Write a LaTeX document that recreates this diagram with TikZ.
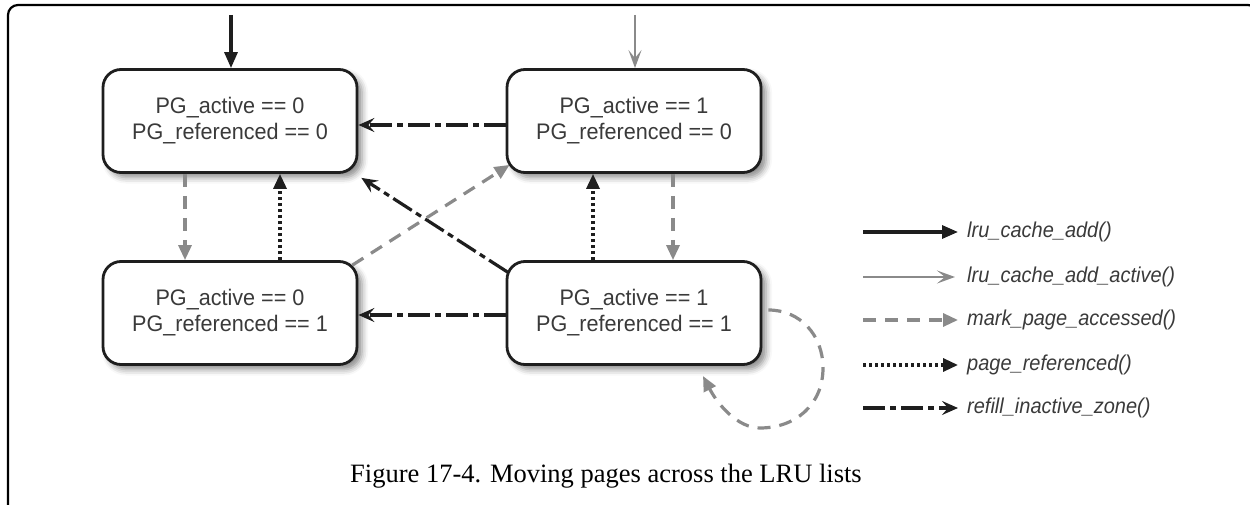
\documentclass[tikz,border=0pt]{standalone}
\usepackage{fontspec}
\setmainfont{Liberation Serif}
\newfontfamily\boxfont[FakeStretch=0.96]{Liberation Sans}
\newfontfamily\legfont[FakeStretch=0.93]{Liberation Sans}
\usetikzlibrary{arrows.meta,shadows.blur}
\definecolor{txtgray}{HTML}{3A3A3A}
\definecolor{arrgray}{HTML}{8A8A8A}
\definecolor{ink}{HTML}{1E1E1E}
\begin{document}
\begin{tikzpicture}[x=1pt,y=-1pt,
  state/.style={draw=ink, line width=2.8pt, rounded corners=18pt, fill=white,
    minimum width=254pt, minimum height=103pt, align=center,
    font=\boxfont\fontsize{22.5}{26}\selectfont, text=txtgray,
    blur shadow={shadow xshift=5pt, shadow yshift=-5pt, shadow blur radius=6pt, shadow opacity=45}},
  legtext/.style={anchor=west, inner sep=0pt, text=txtgray, font=\legfont\itshape\fontsize{21.5}{25}\selectfont},
  addarrow/.style={draw=ink, line width=3.2pt, -{Triangle[length=16pt,width=13pt]}},
  activearrow/.style={draw=arrgray, line width=2.8pt, -{Stealth[length=18pt,width=13pt,inset=8pt]}},
  markarrow/.style={draw=arrgray, line width=3.2pt, dash pattern=on 13pt off 9pt, -{Triangle[length=15pt,width=13pt]}},
  refarrow/.style={draw=ink, line width=3.2pt, dash pattern=on 3pt off 3pt, -{Triangle[length=15pt,width=13pt]}},
  refillarrow/.style={draw=ink, line width=3.2pt, dash pattern=on 22pt off 5pt on 6pt off 5pt, -{Stealth[length=16pt,width=14pt,inset=6pt]}}
]
\useasboundingbox (0,0) rectangle (1250,505);
% frame
\draw[line width=2.2pt, rounded corners=10pt] (8,515) -- (8,5) -- (1258,5) -- (1258,515);

% states
\node[state] (A) at (230,121) {PG\_active == 0\\PG\_referenced == 0};
\node[state] (B) at (634,121) {PG\_active == 1\\PG\_referenced == 0};
\node[state] (C) at (230,313) {PG\_active == 0\\PG\_referenced == 1};
\node[state] (D) at (634,313) {PG\_active == 1\\PG\_referenced == 1};

% entry points
\coordinate (inA) at (231,15);
\coordinate (inB) at (635,15);
\draw[addarrow] (inA) -- (A.north -| inA);
\draw[activearrow] (inB) -- (B.north -| inB);

% vertical transitions
\draw[markarrow] ([xshift=-45pt]A.south) -- ([xshift=-45pt]C.north);
\draw[refarrow] ([xshift=50pt]C.north) -- ([xshift=50pt]A.south);
\draw[markarrow] ([xshift=39pt]B.south) -- ([xshift=39pt]D.north);
\draw[refarrow] ([xshift=-41pt]D.north) -- ([xshift=-41pt]B.south);

% horizontal transitions
\draw[refillarrow] ([yshift=-4pt]B.west) -- ([yshift=-4pt]A.east);
\draw[refillarrow] ([yshift=-2pt]D.west) -- ([yshift=-2pt]C.east);

% diagonals
\draw[refillarrow] ([shift={(2,12)}]D.north west) -- ([shift={(3,4)}]A.south east);
\draw[markarrow] ([shift={(-6,5)}]C.north east) -- ([shift={(4,-9)}]B.south west);

% self loop
\coordinate (l0) at ([shift={(6,-3)}]D.east);
\coordinate (l1) at (703,376);
\draw[markarrow] (l0) .. controls (800,310) and (823,335) .. (823,368)
  .. controls (823,405) and (795,428) .. (760,428)
  .. controls (738,428) and (718,405) .. (l1);

% legend
\coordinate (g1a) at (863,232); \coordinate (g1b) at (958,232);
\coordinate (g2a) at (863,277); \coordinate (g2b) at (955,277);
\coordinate (g3a) at (863,320); \coordinate (g3b) at (958,320);
\coordinate (g4a) at (863,365); \coordinate (g4b) at (958,365);
\coordinate (g5a) at (863,408); \coordinate (g5b) at (958,408);
\draw[addarrow] (g1a) -- (g1b);
\draw[activearrow] (g2a) -- (g2b);
\draw[markarrow] (g3a) -- (g3b);
\draw[refarrow] (g4a) -- (g4b);
\draw[refillarrow] (g5a) -- (g5b);
\node[legtext] (t1) at (967,232) {lru\_cache\_add()};
\node[legtext] (t2) at (967,277) {lru\_cache\_add\_active()};
\node[legtext] (t3) at (967,320) {mark\_page\_accessed()};
\node[legtext] (t4) at (967,365) {page\_referenced()};
\node[legtext] (t5) at (967,408) {refill\_inactive\_zone()};

% caption
\node[anchor=base, inner sep=0pt, font=\fontsize{26.5}{30}\selectfont] (cap) at (606,482) {Figure 17-4. Moving pages across the LRU lists};
\end{tikzpicture}
\end{document}
